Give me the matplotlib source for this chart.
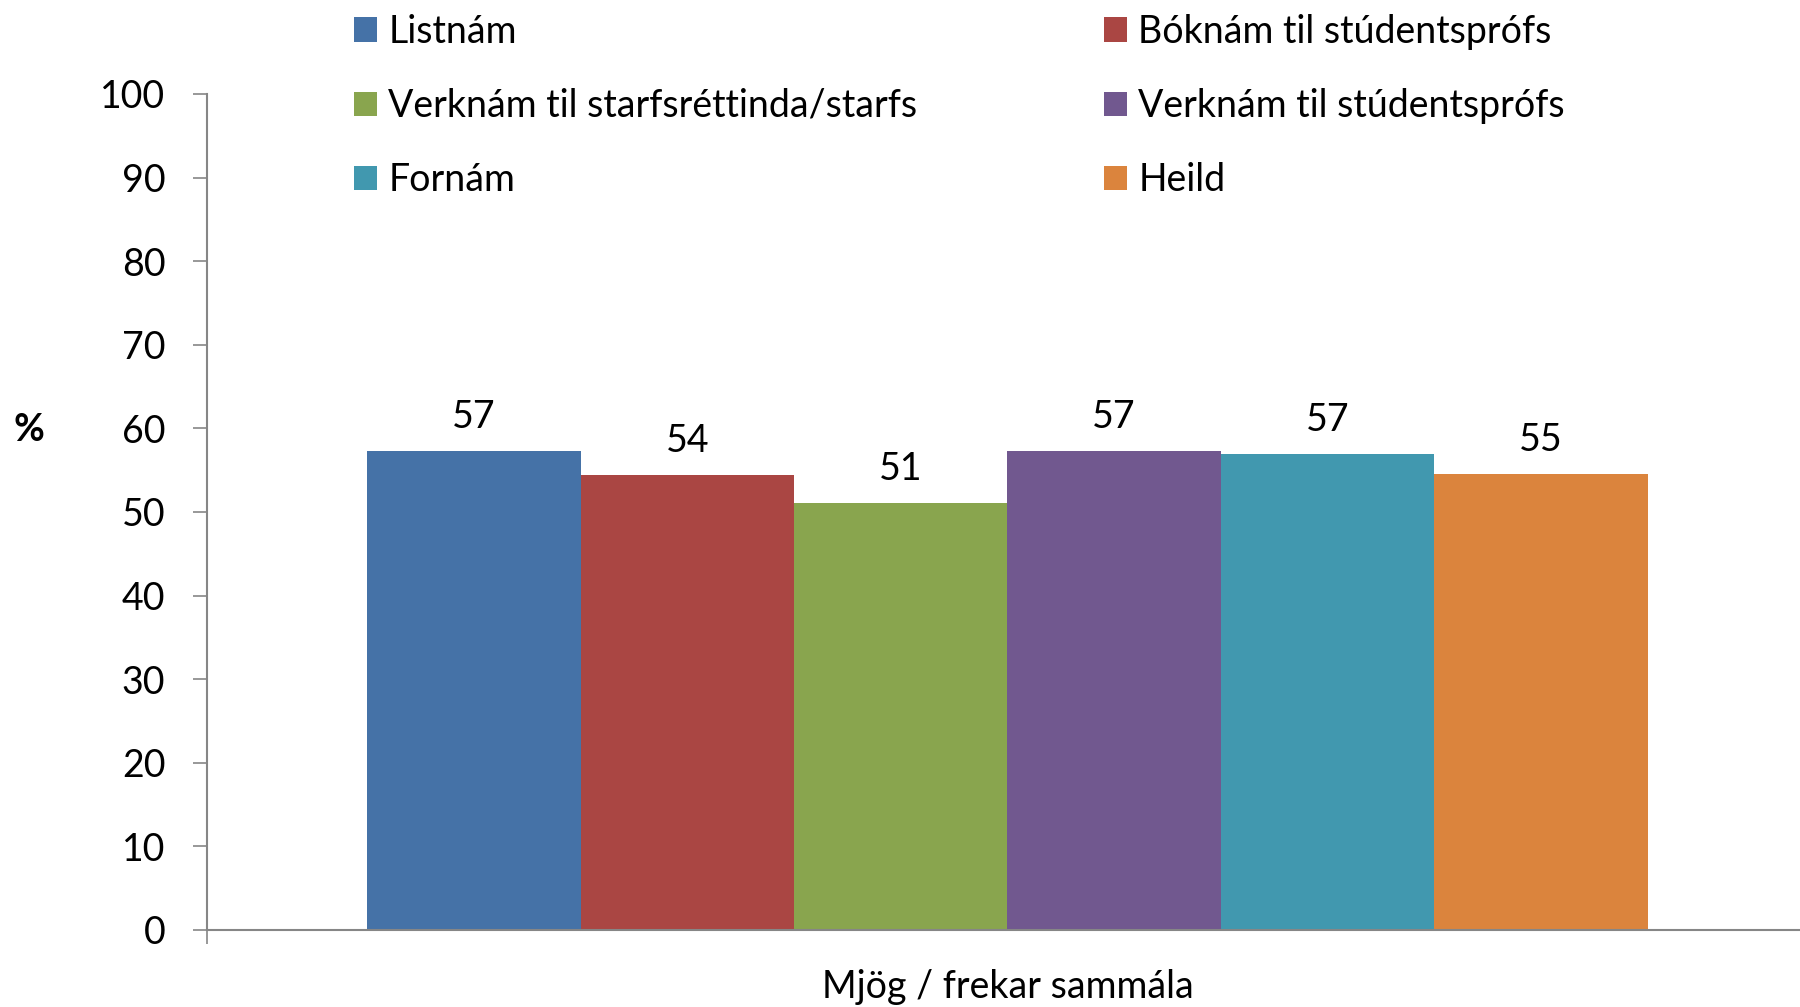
import matplotlib
matplotlib.use("Agg")
import matplotlib.pyplot as plt
from matplotlib.patches import Patch

plt.rcParams['font.family'] = ['Lato', 'DejaVu Sans']

category = "Mjög / frekar sammála"
series = ["Listnám", "Bóknám til stúdentsprófs", "Verknám til starfsréttinda/starfs",
          "Verknám til stúdentsprófs", "Fornám", "Heild"]
values = [57.3, 54.4, 51.1, 57.3, 56.9, 54.6]
colors = ["#4572A7", "#AA4643", "#89A54E", "#71588F", "#4198AF", "#DB843D"]
yticks = [0, 10, 20, 30, 40, 50, 60, 70, 80, 90, 100]

FS = 27
fig = plt.figure(figsize=(18, 10.07), dpi=100)
ax = fig.add_axes([0.115, 0.0765, 0.885, 0.8302])

bw = 0.134
n = len(series)
for i, (lab, v, c) in enumerate(zip(series, values, colors)):
    x = 0.0025 + (i - (n - 1) / 2) * bw
    ax.bar(x, v, width=bw, color=c, label=lab, zorder=2)
    ax.annotate(f"{v:.0f}", (x, v), xytext=(0, 16.5), textcoords="offset points",
                ha="center", va="baseline", fontsize=FS, color="black")

ax.set_xlim(-0.5, 0.5)
ax.set_ylim(0, 100)
ax.set_yticks(yticks)
ax.set_yticklabels([str(t) for t in yticks], fontsize=FS)
ax.set_xticks([0.0025])
ax.set_xticklabels([category], fontsize=FS)
ax.set_xticks([-0.5], minor=True)
ax.tick_params(axis='x', which='major', length=0, pad=28)
ax.tick_params(axis='x', which='minor', length=10, width=1.2, color="#868686", direction='out')
ax.tick_params(axis='y', length=10, width=1.2, color="#868686", direction='out', pad=20)
for s in ['top', 'right']:
    ax.spines[s].set_visible(False)
for s in ['left', 'bottom']:
    ax.spines[s].set_color("#868686")
    ax.spines[s].set_linewidth(1.5)

fig.text(29 / 1800, 1 - 430 / 1007, "%", fontsize=FS, fontweight='bold', ha='center', va='center')

handles = [Patch(facecolor=c) for c in colors]
kw = dict(frameon=False, fontsize=FS, handlelength=0.62, handleheight=0.62,
          handletextpad=0.3, labelspacing=1.02, borderpad=0, borderaxespad=0,
          loc='center left')
leg1 = fig.legend([handles[i] for i in (0, 2, 4)], [series[i] for i in (0, 2, 4)],
                  bbox_to_anchor=(354 / 1800, 1 - 106 / 1007), **kw)
leg2 = fig.legend([handles[i] for i in (1, 3, 5)], [series[i] for i in (1, 3, 5)],
                  bbox_to_anchor=(1104 / 1800, 1 - 106 / 1007), **kw)

fig.savefig("out.png", dpi=100)
